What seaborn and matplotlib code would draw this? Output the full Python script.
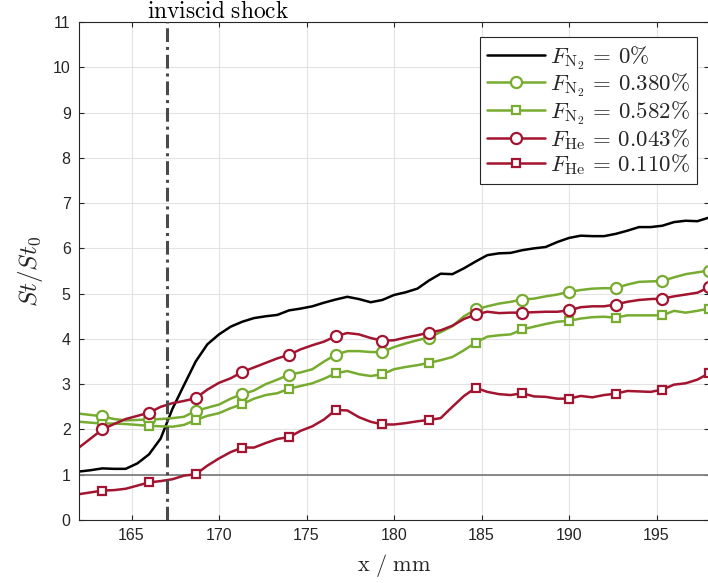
import numpy as np
import pandas as pd
import matplotlib
matplotlib.use("Agg")
import matplotlib.pyplot as plt
import matplotlib.transforms as mtransforms
import seaborn as sns

# Streamwise stations (mm), sampled every 2/3 mm from 162 to 198
x_mm = [162 + 2 * k / 3 for k in range(55)]

# Normalised Stanton number St/St0 for each injection case
st_ref = [1.07, 1.10, 1.14, 1.13, 1.13, 1.25, 1.45, 1.80, 2.45, 2.98,
          3.50, 3.88, 4.10, 4.27, 4.38, 4.46, 4.50, 4.53, 4.63, 4.67,
          4.72, 4.80, 4.87, 4.93, 4.88, 4.81, 4.86, 4.97, 5.03, 5.11,
          5.29, 5.44, 5.43, 5.56, 5.71, 5.85, 5.89, 5.90, 5.96, 6.00,
          6.03, 6.14, 6.23, 6.28, 6.27, 6.27, 6.32, 6.39, 6.47, 6.47,
          6.50, 6.58, 6.61, 6.60, 6.68]

st_n2_0380 = [2.35, 2.32, 2.29, 2.23, 2.20, 2.21, 2.22, 2.23, 2.25, 2.28,
              2.41, 2.48, 2.55, 2.68, 2.78, 2.86, 3.00, 3.10, 3.21, 3.26,
              3.33, 3.50, 3.65, 3.73, 3.73, 3.71, 3.71, 3.82, 3.90, 3.97,
              4.03, 4.15, 4.28, 4.50, 4.65, 4.72, 4.78, 4.82, 4.87, 4.89,
              4.94, 4.98, 5.04, 5.08, 5.11, 5.12, 5.12, 5.20, 5.26, 5.27,
              5.28, 5.36, 5.43, 5.47, 5.51]

st_n2_0582 = [2.17, 2.15, 2.13, 2.13, 2.12, 2.10, 2.08, 2.07, 2.06, 2.10,
              2.21, 2.30, 2.36, 2.47, 2.56, 2.68, 2.76, 2.80, 2.90, 2.96,
              3.02, 3.12, 3.24, 3.29, 3.22, 3.18, 3.22, 3.33, 3.38, 3.42,
              3.47, 3.53, 3.60, 3.75, 3.92, 4.05, 4.08, 4.10, 4.21, 4.27,
              4.33, 4.38, 4.40, 4.45, 4.48, 4.49, 4.47, 4.52, 4.52, 4.52,
              4.52, 4.62, 4.58, 4.62, 4.67]

st_he_0043 = [1.60, 1.80, 2.00, 2.12, 2.23, 2.30, 2.37, 2.50, 2.58, 2.63,
              2.69, 2.88, 3.03, 3.13, 3.27, 3.37, 3.47, 3.57, 3.65, 3.77,
              3.86, 3.94, 4.06, 4.13, 4.10, 4.02, 3.96, 3.97, 4.03, 4.08,
              4.14, 4.19, 4.29, 4.44, 4.54, 4.60, 4.57, 4.58, 4.58, 4.59,
              4.60, 4.60, 4.63, 4.70, 4.72, 4.72, 4.76, 4.82, 4.86, 4.88,
              4.89, 4.94, 4.98, 5.02, 5.14]

st_he_0110 = [0.57, 0.61, 0.65, 0.66, 0.69, 0.76, 0.83, 0.86, 0.90, 0.98,
              1.01, 1.20, 1.36, 1.50, 1.60, 1.60, 1.70, 1.79, 1.83, 1.97,
              2.07, 2.22, 2.43, 2.42, 2.27, 2.17, 2.11, 2.11, 2.14, 2.18,
              2.21, 2.25, 2.50, 2.74, 2.92, 2.83, 2.78, 2.76, 2.80, 2.73,
              2.72, 2.68, 2.68, 2.74, 2.71, 2.76, 2.79, 2.85, 2.84, 2.83,
              2.88, 2.99, 3.02, 3.10, 3.24]

labels = [r"$F_{\mathrm{N_2}}\,=\,0\%$",
          r"$F_{\mathrm{N_2}}\,=\,0.380\%$",
          r"$F_{\mathrm{N_2}}\,=\,0.582\%$",
          r"$F_{\mathrm{He}}\,=\,0.043\%$",
          r"$F_{\mathrm{He}}\,=\,0.110\%$"]

shock_x = 167
x_ticks = [165, 170, 175, 180, 185, 190, 195]
y_ticks = list(range(0, 12))

GREEN = "#77AC30"
RED = "#A2142F"

sns.set_theme(style="white")
plt.rcParams["font.family"] = ["Liberation Sans", "DejaVu Sans"]
plt.rcParams["mathtext.fontset"] = "cm"

fig = plt.figure(figsize=(7.08, 5.83), dpi=100)
ax = fig.add_axes([79 / 708, 63 / 583, 630 / 708, 498 / 583])

ax.set_xlim(162, 198)
ax.set_ylim(0, 11)
ax.set_xticks(x_ticks)
ax.set_yticks(y_ticks)
ax.grid(True, color="#e3e3e3", lw=0.8, zorder=0)
ax.set_axisbelow(True)

# reference level St/St0 = 1
ax.axhline(1, color="#808080", lw=1.3, zorder=1)

df = pd.DataFrame({"x": x_mm, "ref": st_ref, "n2a": st_n2_0380,
                   "n2b": st_n2_0582, "hea": st_he_0043, "heb": st_he_0110})

mk = slice(2, None, 4)
series = [
    ("ref", "black", None, 0),
    ("n2a", GREEN, "o", 8),
    ("n2b", GREEN, "s", 6),
    ("hea", RED, "o", 8),
    ("heb", RED, "s", 6),
]
for (col, color, marker, ms), lab in zip(series, labels):
    kw = dict(color=color, lw=1.8, label=lab, sort=False, estimator=None, zorder=2)
    if marker is not None:
        kw.update(marker=marker, markevery=mk, ms=ms, mfc="white",
                  mec=color, mew=1.6)
    sns.lineplot(data=df, x="x", y=col, ax=ax, **kw)

# inviscid shock position
ax.axvline(shock_x, color="#4a4a4a", lw=2.2,
           linestyle=(0, (4.5, 1.6, 1.0, 1.6)), zorder=3)
trans = mtransforms.blended_transform_factory(ax.transData, ax.transAxes)
ax.text(169.95, 1.008, r"$\mathrm{inviscid\ shock}$", transform=trans,
        ha="center", va="baseline", fontsize=16.8, color="black")

ax.set_xlabel(r"$\mathrm{x\ /\ mm}$", fontsize=16, labelpad=6)
ax.set_ylabel(r"$St/St_0$", fontsize=18, labelpad=6)

for s in ax.spines.values():
    s.set_color("#262626")
    s.set_linewidth(0.8)
    s.set_visible(True)
ax.tick_params(direction="in", length=3.5, width=0.8, color="#262626",
               labelsize=11.5, labelcolor="#262626", top=True, right=True,
               bottom=True, left=True, pad=6)

leg = ax.legend(loc="upper right", bbox_to_anchor=(0.981, 0.97),
                fontsize=16.5, handlelength=2.55, handletextpad=0.22,
                labelspacing=0.0, borderpad=0.3, borderaxespad=0,
                frameon=True, fancybox=False, framealpha=1, edgecolor="#262626")
leg.get_frame().set_linewidth(0.8)

fig.savefig("out.png", dpi=100)
